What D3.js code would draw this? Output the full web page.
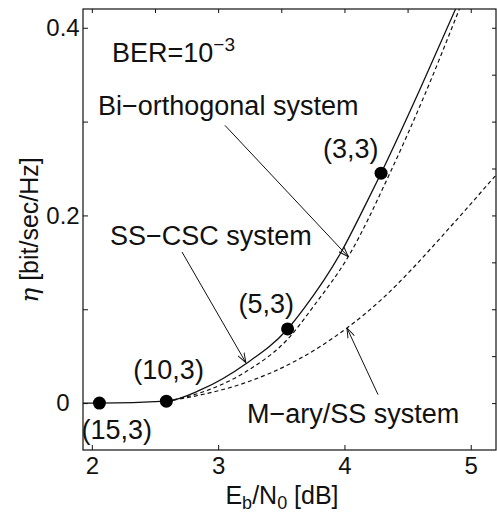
<!DOCTYPE html>
<html>
<head>
<meta charset="utf-8">
<script src="https://cdn.jsdelivr.net/npm/d3@7"></script>
<style>
  body { margin: 0; background: #fff; }
  svg { display: block; font-family: "Liberation Sans", Arial, Helvetica, sans-serif; }
  .ann { font-size: 27px; fill: #111; }
</style>
</head>
<body>
<svg id="chart" width="497" height="515"></svg>
<script>
// ---- data (Eb/N0 in dB, eta in bit/sec/Hz) ----
var ssX   = [1.93, 2.06, 2.59, 2.86, 3.22, 3.55, 3.68, 3.97, 4.18, 4.29, 4.60, 4.88];
var ssEta = [0, 0, 0.002, 0.014, 0.042, 0.079, 0.101, 0.160, 0.215, 0.245, 0.335, 0.42];

var biX   = [2.59, 2.86, 3.25, 3.55, 3.76, 4.03, 4.36, 4.64, 4.91];
var biEta = [0.002, 0.011, 0.036, 0.068, 0.104, 0.156, 0.245, 0.33, 0.42];

var maryX   = [2.59, 2.80, 3.20, 3.60, 4.02, 4.29, 4.55, 4.76, 5.20];
var maryEta = [0.002, 0.007, 0.021, 0.044, 0.080, 0.110, 0.145, 0.176, 0.243];

var ptX     = [2.06, 2.59, 3.55, 4.29];
var ptEta   = [0, 0.002, 0.079, 0.245];
var ptNames = ["(15,3)", "(10,3)", "(5,3)", "(3,3)"];

var xTicks      = [2, 3, 4, 5];
var xTickLabels = ["2", "3", "4", "5"];
var xTopTicks   = [2, 2.5, 3, 3.5, 4, 4.5, 5];
var yTicks      = [0, 0.1, 0.2, 0.3, 0.4];
var yTickLabels = ["0", "", "0.2", "", "0.4"];
var yRightTicks = [0, 0.05, 0.1, 0.15, 0.2, 0.25, 0.3, 0.35, 0.4];

var svg = d3.select("#chart");
var L = 83, R = 496, T = 9, B = 450;

var x = d3.scaleLinear().domain([1.93, 5.2]).range([L, R]);
var y = d3.scaleLinear().domain([-0.05, 0.42]).range([B, T]);

// axes (ticks point inward)
var gx = svg.append("g").attr("transform", "translate(0," + B + ")")
  .call(d3.axisBottom(x).tickValues(xTicks).tickSizeInner(-5).tickSizeOuter(0).tickPadding(7)
    .tickFormat(function(d, i) { return xTickLabels[i]; }));
gx.selectAll("text").style("font-size", "24px").attr("fill", "#111");

var gy = svg.append("g").attr("transform", "translate(" + L + ",0)")
  .call(d3.axisLeft(y).tickValues(yTicks).tickSizeInner(-5).tickSizeOuter(0)
    .tickFormat(function(d, i) { return yTickLabels[i]; }));
gy.selectAll("text").style("font-size", "24px").attr("fill", "#111")
  .attr("text-anchor", "middle").attr("x", -20);

svg.append("g").attr("transform", "translate(0," + T + ")")
  .call(d3.axisTop(x).tickValues(xTopTicks).tickSizeInner(-4).tickSizeOuter(0).tickFormat(""));
svg.append("g").attr("transform", "translate(" + R + ",0)")
  .call(d3.axisRight(y).tickValues(yRightTicks).tickSizeInner(-4).tickSizeOuter(0).tickFormat(""));

svg.selectAll(".domain").remove();
svg.selectAll(".tick line").attr("stroke", "#111");

svg.append("rect").attr("x", L).attr("y", T).attr("width", R - L).attr("height", B - T)
  .attr("fill", "none").attr("stroke", "#111").attr("stroke-width", 1.2);

// curves
svg.append("clipPath").attr("id", "clip")
  .append("rect").attr("x", L).attr("y", T).attr("width", R - L).attr("height", B - T);

function pts(xs, ys) { return xs.map(function(d, i) { return [d, ys[i]]; }); }

var line = d3.line()
  .x(function(d) { return x(d[0]); })
  .y(function(d) { return y(d[1]); })
  .curve(d3.curveMonotoneX);

var plot = svg.append("g").attr("clip-path", "url(#clip)");

plot.append("path").attr("d", line(pts(maryX, maryEta)))
  .attr("fill", "none").attr("stroke", "#111").attr("stroke-width", 1.2)
  .attr("stroke-dasharray", "4,3");
plot.append("path").attr("d", line(pts(biX, biEta)))
  .attr("fill", "none").attr("stroke", "#111").attr("stroke-width", 1.2)
  .attr("stroke-dasharray", "4,3");
plot.append("path").attr("d", line(pts(ssX, ssEta)))
  .attr("fill", "none").attr("stroke", "#111").attr("stroke-width", 1.3);

// marked points
plot.selectAll("circle").data(pts(ptX, ptEta)).enter().append("circle")
  .attr("cx", function(d) { return x(d[0]); })
  .attr("cy", function(d) { return y(d[1]); })
  .attr("r", 6.5).attr("fill", "#000");

// point labels, offset from their points
var ptOff = [[-18, 36], [-33, -22], [-49, -16], [-58, -15]];
svg.selectAll(".ptlab").data(ptNames).enter().append("text")
  .attr("class", "ann ptlab")
  .attr("x", function(d, i) { return x(ptX[i]) + ptOff[i][0]; })
  .attr("y", function(d, i) { return y(ptEta[i]) + ptOff[i][1]; })
  .text(function(d) { return d; });

// annotation arrows (data coords: from, to)
svg.append("defs").append("marker").attr("id", "arr")
  .attr("viewBox", "0 0 10 8").attr("refX", 10).attr("refY", 4)
  .attr("markerWidth", 10).attr("markerHeight", 8).attr("markerUnits", "userSpaceOnUse")
  .attr("orient", "auto")
  .append("path").attr("d", "M0,0.5 L10,4 L0,7.5").attr("fill", "none").attr("stroke", "#111").attr("stroke-width", 1);

var arrows = [
  [[3.054, 0.296], [4.03, 0.156]],
  [[2.714, 0.161], [3.22, 0.043]],
  [[4.266, 0.009], [4.02, 0.080]]
];
svg.selectAll(".arrow").data(arrows).enter().append("line")
  .attr("x1", function(d) { return x(d[0][0]); }).attr("y1", function(d) { return y(d[0][1]); })
  .attr("x2", function(d) { return x(d[1][0]); }).attr("y2", function(d) { return y(d[1][1]); })
  .attr("stroke", "#111").attr("stroke-width", 1).attr("marker-end", "url(#arr)");

// text annotations
var ber = svg.append("text").attr("class", "ann").attr("x", 112).attr("y", 62);
ber.append("tspan").text("BER=10");
ber.append("tspan").attr("dy", -11).style("font-size", "19px").text("\u22123");

svg.append("text").attr("class", "ann").attr("x", 98).attr("y", 115).text("Bi\u2212orthogonal system");
svg.append("text").attr("class", "ann").attr("x", 110).attr("y", 245).text("SS\u2212CSC system");
svg.append("text").attr("class", "ann").attr("x", 247).attr("y", 423).text("M\u2212ary/SS system");

// axis titles
var xl = svg.append("text").attr("class", "ann").attr("x", 282).attr("y", 504)
  .attr("text-anchor", "middle").style("font-size", "25px");
xl.append("tspan").text("E");
xl.append("tspan").attr("dy", 5).style("font-size", "18px").text("b");
xl.append("tspan").attr("dy", -5).text("/N");
xl.append("tspan").attr("dy", 5).style("font-size", "18px").text("0");
xl.append("tspan").attr("dy", -5).text(" [dB]");

svg.append("text").attr("class", "ann").style("font-size", "25px")
  .attr("transform", "translate(38,230) rotate(-90)").attr("text-anchor", "middle")
  .html('<tspan font-style="italic" font-family="DejaVu Serif, serif">\u03b7</tspan> [bit/sec/Hz]');
</script>
</body>
</html>
